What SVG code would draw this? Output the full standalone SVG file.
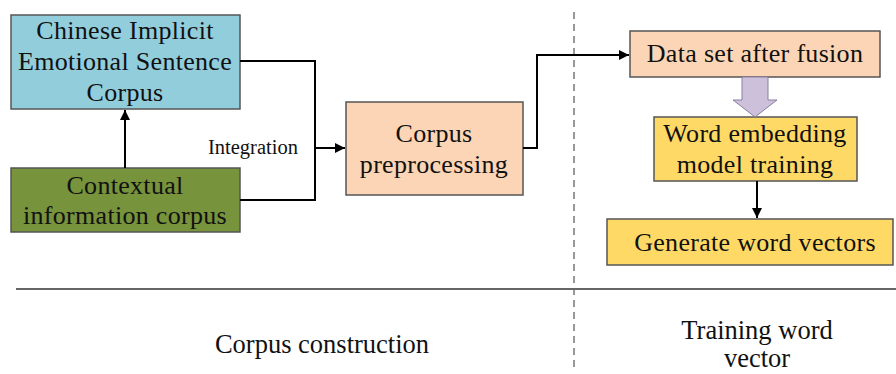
<svg xmlns="http://www.w3.org/2000/svg" width="896" height="374" viewBox="0 0 896 374">
<defs>
<marker id="ah" viewBox="0 0 10 10" refX="10" refY="5" markerWidth="5" markerHeight="5" orient="auto" markerUnits="strokeWidth"><path d="M0,0 L10,5 L0,10 z" fill="#000"/></marker>
</defs>
<style>
.box{stroke:#555;stroke-width:1.5}
text{font-family:'Liberation Serif','Times New Roman','DejaVu Serif',serif;fill:#111}
.t{font-size:26px;letter-spacing:0.3px;text-anchor:middle}
.s{font-size:20.5px}
.l{font-size:26.5px;text-anchor:middle}
.c{fill:none;stroke:#000;stroke-width:2}
</style>
<rect width="896" height="374" fill="#fff"/>
<g id="dividers">
<line x1="574" y1="12" x2="574" y2="370" stroke="#555" stroke-width="1.2" stroke-dasharray="7,5"/>
<line x1="16" y1="289" x2="896" y2="289" stroke="#666" stroke-width="2"/>
</g>
<g id="n-chinese">
<rect class="box" x="11" y="15" width="229" height="94" fill="#92CDDC"/>
<text class="t" x="125" y="39">Chinese Implicit</text>
<text class="t" x="125" y="70">Emotional Sentence</text>
<text class="t" x="125" y="101">Corpus</text>
</g>
<g id="n-context">
<rect class="box" x="11" y="168" width="229" height="64" fill="#77933C"/>
<text class="t" x="125" y="194">Contextual</text>
<text class="t" x="125" y="224">information corpus</text>
</g>
<g id="n-preproc">
<rect class="box" x="346" y="102" width="177" height="93" fill="#FBD5B5"/>
<text class="t" x="434" y="142">Corpus</text>
<text class="t" x="434" y="173">preprocessing</text>
</g>
<g id="n-dataset">
<rect class="box" x="630" y="31" width="250" height="46" fill="#FBD5B5"/>
<text class="t" x="755" y="62">Data set after fusion</text>
</g>
<g id="n-embed">
<rect class="box" x="654" y="117" width="203" height="64" fill="#FFD966"/>
<text class="t" x="755" y="142">Word embedding</text>
<text class="t" x="755" y="173">model training</text>
</g>
<g id="n-generate">
<rect class="box" x="607" y="219" width="286" height="46" fill="#FFD966"/>
<text class="t" x="755" y="251">Generate word vectors</text>
</g>
<g id="connectors">
<line class="c" x1="125" y1="168" x2="125" y2="110" marker-end="url(#ah)"/>
<polyline class="c" points="240,61 315,61 315,200 240,200"/>
<line class="c" x1="315" y1="148" x2="345" y2="148" marker-end="url(#ah)"/>
<polyline class="c" points="523,148 537,148 537,55 629,55" marker-end="url(#ah)"/>
<polygon points="742,77 768,77 768,100 777,100 755,117 733,100 742,100" fill="#CCC0DA" stroke="#8A7FA0" stroke-width="1"/>
<line class="c" x1="757" y1="181" x2="757" y2="218" marker-end="url(#ah)"/>
</g>
<g id="labels">
<text class="s" x="208" y="154">Integration</text>
<text class="l" x="322" y="353">Corpus construction</text>
<text class="l" x="757" y="339">Training word</text>
<text class="l" x="757" y="367">vector</text>
</g>
</svg>
